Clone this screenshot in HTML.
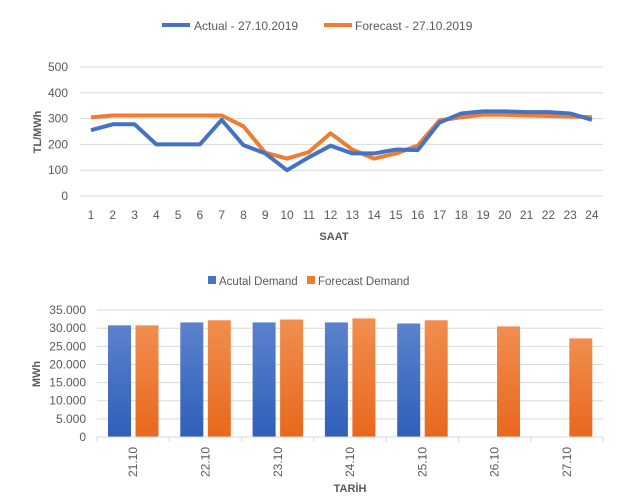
<!DOCTYPE html><html><head><meta charset="utf-8"><style>body{margin:0;background:#fff}svg{display:block;font-family:"Liberation Sans",sans-serif}</style></head><body>
<svg id="s" width="640" height="497" xmlns="http://www.w3.org/2000/svg">
<defs>
<linearGradient id="gb" x1="0" y1="0" x2="0" y2="1"><stop offset="0" stop-color="#5b82cc"/><stop offset="1" stop-color="#2f5fba"/></linearGradient>
<linearGradient id="go" x1="0" y1="0" x2="0" y2="1"><stop offset="0" stop-color="#f08e50"/><stop offset="1" stop-color="#e8681c"/></linearGradient>
</defs>
<line x1="162" y1="25" x2="190" y2="25" stroke="#4472c4" stroke-width="4"/>
<text x="194" y="30" font-size="12" fill="#595959">Actual - 27.10.2019</text>
<line x1="324" y1="25" x2="352" y2="25" stroke="#ed7d31" stroke-width="4"/>
<text x="355" y="30" font-size="12" fill="#595959">Forecast - 27.10.2019</text>
<text transform="translate(41,132) rotate(-90)" text-anchor="middle" font-size="11" font-weight="bold" fill="#595959">TL/MWh</text>
<text x="334" y="240" text-anchor="middle" font-size="11" font-weight="bold" fill="#595959">SAAT</text>
<rect x="208" y="276" width="8" height="8" fill="#4472c4"/>
<text x="219" y="285" font-size="11.5" fill="#595959">Acutal Demand</text>
<rect x="307" y="276" width="8" height="8" fill="#ed7d31"/>
<text x="318" y="285" font-size="11.5" fill="#595959">Forecast Demand</text>
<text transform="translate(40,374) rotate(-90)" text-anchor="middle" font-size="11" font-weight="bold" fill="#595959">MWh</text>
<text x="350" y="492" text-anchor="middle" font-size="11" font-weight="bold" fill="#595959">TARİH</text>
<g id="g"></g>
</svg>
<script>
var g=document.getElementById('g'),h='';
function Y1(v){return 196-v*0.258}
for(var i=0;i<=5;i++){var y=Y1(i*100);h+='<line x1="80" x2="603" y1="'+y+'" y2="'+y+'" stroke="#d9d9d9"/><text x="68" y="'+(y+4)+'" text-anchor="end" font-size="12" fill="#595959">'+(i*100)+'</text>';}
var a=[255,278,278,200,200,200,295,197,165,100,150,195,165,165,180,178,285,320,328,328,325,325,320,295];
var f=[305,312,312,312,312,312,312,270,168,145,170,243,180,145,165,195,293,305,315,315,312,310,308,305];
function X1(i){return 91+i*21.78}
for(var i=0;i<24;i++)h+='<text x="'+X1(i)+'" y="219" text-anchor="middle" font-size="12" fill="#595959">'+(i+1)+'</text>';
function pl(d,c){return '<polyline fill="none" stroke="'+c+'" stroke-width="4" stroke-linejoin="round" points="'+d.map(function(v,i){return X1(i)+','+Y1(v)}).join(' ')+'"/>'}
h+=pl(f,'#ed7d31')+pl(a,'#4472c4');
function Y2(v){return 437-v*0.003626}
var lb=['0','5.000','10.000','15.000','20.000','25.000','30.000','35.000'];
for(var i=0;i<=7;i++){var y=Y2(i*5000);h+='<line x1="97" x2="603" y1="'+y+'" y2="'+y+'" stroke="#d9d9d9"/><text x="86" y="'+(y+4)+'" text-anchor="end" font-size="12" fill="#595959">'+lb[i]+'</text>';}
var ba=[30800,31600,31600,31600,31300,0,0],bf=[30800,32200,32400,32700,32200,30500,27200],dt=['21.10','22.10','23.10','24.10','25.10','26.10','27.10'];
var w=72.3;
for(var i=0;i<7;i++){var x0=97+i*w;
h+='<line x1="'+x0+'" x2="'+x0+'" y1="437" y2="442" stroke="#d9d9d9"/>';
if(ba[i])h+='<rect x="'+(x0+11)+'" y="'+Y2(ba[i])+'" width="23" height="'+(437-Y2(ba[i]))+'" fill="url(#gb)"/>';
h+='<rect x="'+(x0+38.5)+'" y="'+Y2(bf[i])+'" width="23" height="'+(437-Y2(bf[i]))+'" fill="url(#go)"/>';
var cx=x0+w/2+4;h+='<text transform="translate('+cx+',447) rotate(-90)" text-anchor="end" font-size="12" fill="#595959">'+dt[i]+'</text>';}
h+='<line x1="603" x2="603" y1="437" y2="442" stroke="#d9d9d9"/><line x1="97" x2="603" y1="437" y2="437" stroke="#d9d9d9"/>';
g.innerHTML=h;
</script>
</body></html>
